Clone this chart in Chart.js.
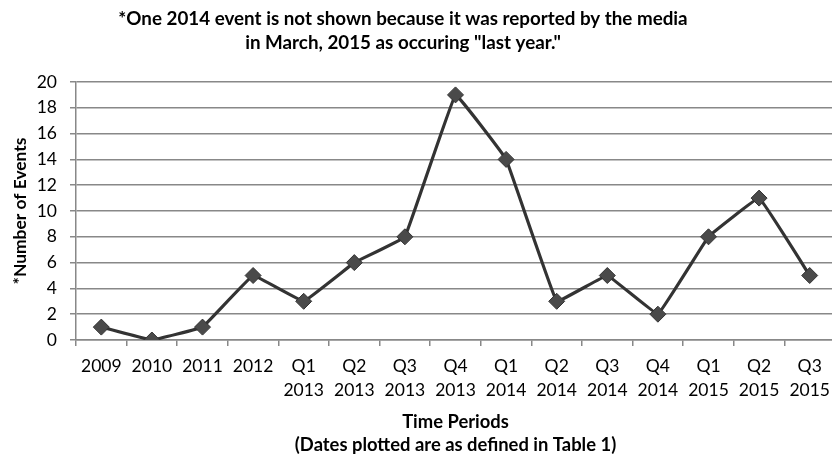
<!DOCTYPE html>
<html>
<head>
<meta charset="utf-8">
<script src="https://cdn.jsdelivr.net/npm/chart.js@4/dist/chart.umd.min.js"></script>
<style>
  html, body { margin: 0; padding: 0; background: #fff; overflow: hidden; }
  #wrap { width: 832px; height: 454px; overflow: hidden; }
  canvas { display: block; }
</style>
</head>
<body>
<div id="wrap"><canvas id="c" width="844" height="454"></canvas></div>
<script>
// Time periods (two-line labels) and event counts
const periods = [
  ['2009'], ['2010'], ['2011'], ['2012'],
  ['Q1', '2013'], ['Q2', '2013'], ['Q3', '2013'], ['Q4', '2013'],
  ['Q1', '2014'], ['Q2', '2014'], ['Q3', '2014'], ['Q4', '2014'],
  ['Q1', '2015'], ['Q2', '2015'], ['Q3', '2015']
];
const eventCounts = [1, 0, 1, 5, 3, 6, 8, 19, 14, 3, 5, 2, 8, 11, 5];
const yTicks = [0, 2, 4, 6, 8, 10, 12, 14, 16, 18, 20];

const titleLines = [
  '*One 2014 event is not shown because it was reported by the media',
  'in March, 2015 as occuring "last year."'
];

const FONT = 'Lato, "Open Sans", sans-serif';

// Heading drawn above the plot
const headingPlugin = {
  id: 'heading',
  afterDraw(chart) {
    const ctx = chart.ctx;
    ctx.save();
    ctx.fillStyle = '#000';
    ctx.font = 'bold 18.8px ' + FONT;
    ctx.textAlign = 'center';
    ctx.textBaseline = 'middle';
    ctx.fillText(titleLines[0], 403, 19);
    ctx.fillText(titleLines[1], 403, 43);
    ctx.restore();
  }
};

new Chart(document.getElementById('c'), {
  type: 'line',
  data: {
    labels: periods,
    datasets: [{
      data: eventCounts,
      borderColor: '#333333',
      borderWidth: 3.2,
      tension: 0.05,
      pointStyle: 'rectRot',
      pointRadius: 8,
      pointHoverRadius: 8,
      pointBackgroundColor: '#4a4a4a',
      pointBorderColor: '#333333',
      pointBorderWidth: 1
    }]
  },
  options: {
    responsive: false,
    animation: false,
    devicePixelRatio: 1,
    layout: { padding: { top: 82, left: 0, right: 0, bottom: 0 } },
    plugins: {
      legend: { display: false },
      tooltip: { enabled: false }
    },
    scales: {
      x: {
        offset: true,
        grid: {
          offset: true,
          drawOnChartArea: false,
          drawTicks: true,
          tickLength: 6,
          color: '#888',
          lineWidth: 1.5
        },
        border: { color: '#888', width: 1.5 },
        ticks: {
          color: '#000',
          font: { family: FONT, size: 17.5, lineHeight: 1.4 },
          maxRotation: 0,
          autoSkip: false,
          padding: 8
        },
        title: {
          display: true,
          text: ['Time Periods', '(Dates plotted are as defined in Table 1)'],
          color: '#000',
          font: { family: FONT, size: 18.4, weight: 'bold', lineHeight: 1.25 },
          padding: { top: 15, bottom: -3 }
        },
        afterFit(scale) { scale.height = 114; }
      },
      y: {
        min: 0,
        max: 20,
        afterBuildTicks(scale) { scale.ticks = yTicks.map(v => ({ value: v })); },
        grid: {
          color: '#888',
          lineWidth: 1.5,
          tickLength: 6
        },
        border: { color: '#888', width: 1.5 },
        ticks: {
          color: '#000',
          font: { family: FONT, size: 17.5 },
          padding: 13
        },
        title: {
          display: true,
          text: '*Number of Events',
          color: '#000',
          font: { family: FONT, size: 17.4, weight: 'bold' },
          padding: { top: 10, bottom: 4 }
        },
        afterFit(scale) { scale.width = 76; }
      }
    }
  },
  plugins: [headingPlugin]
});
</script>
</body>
</html>
